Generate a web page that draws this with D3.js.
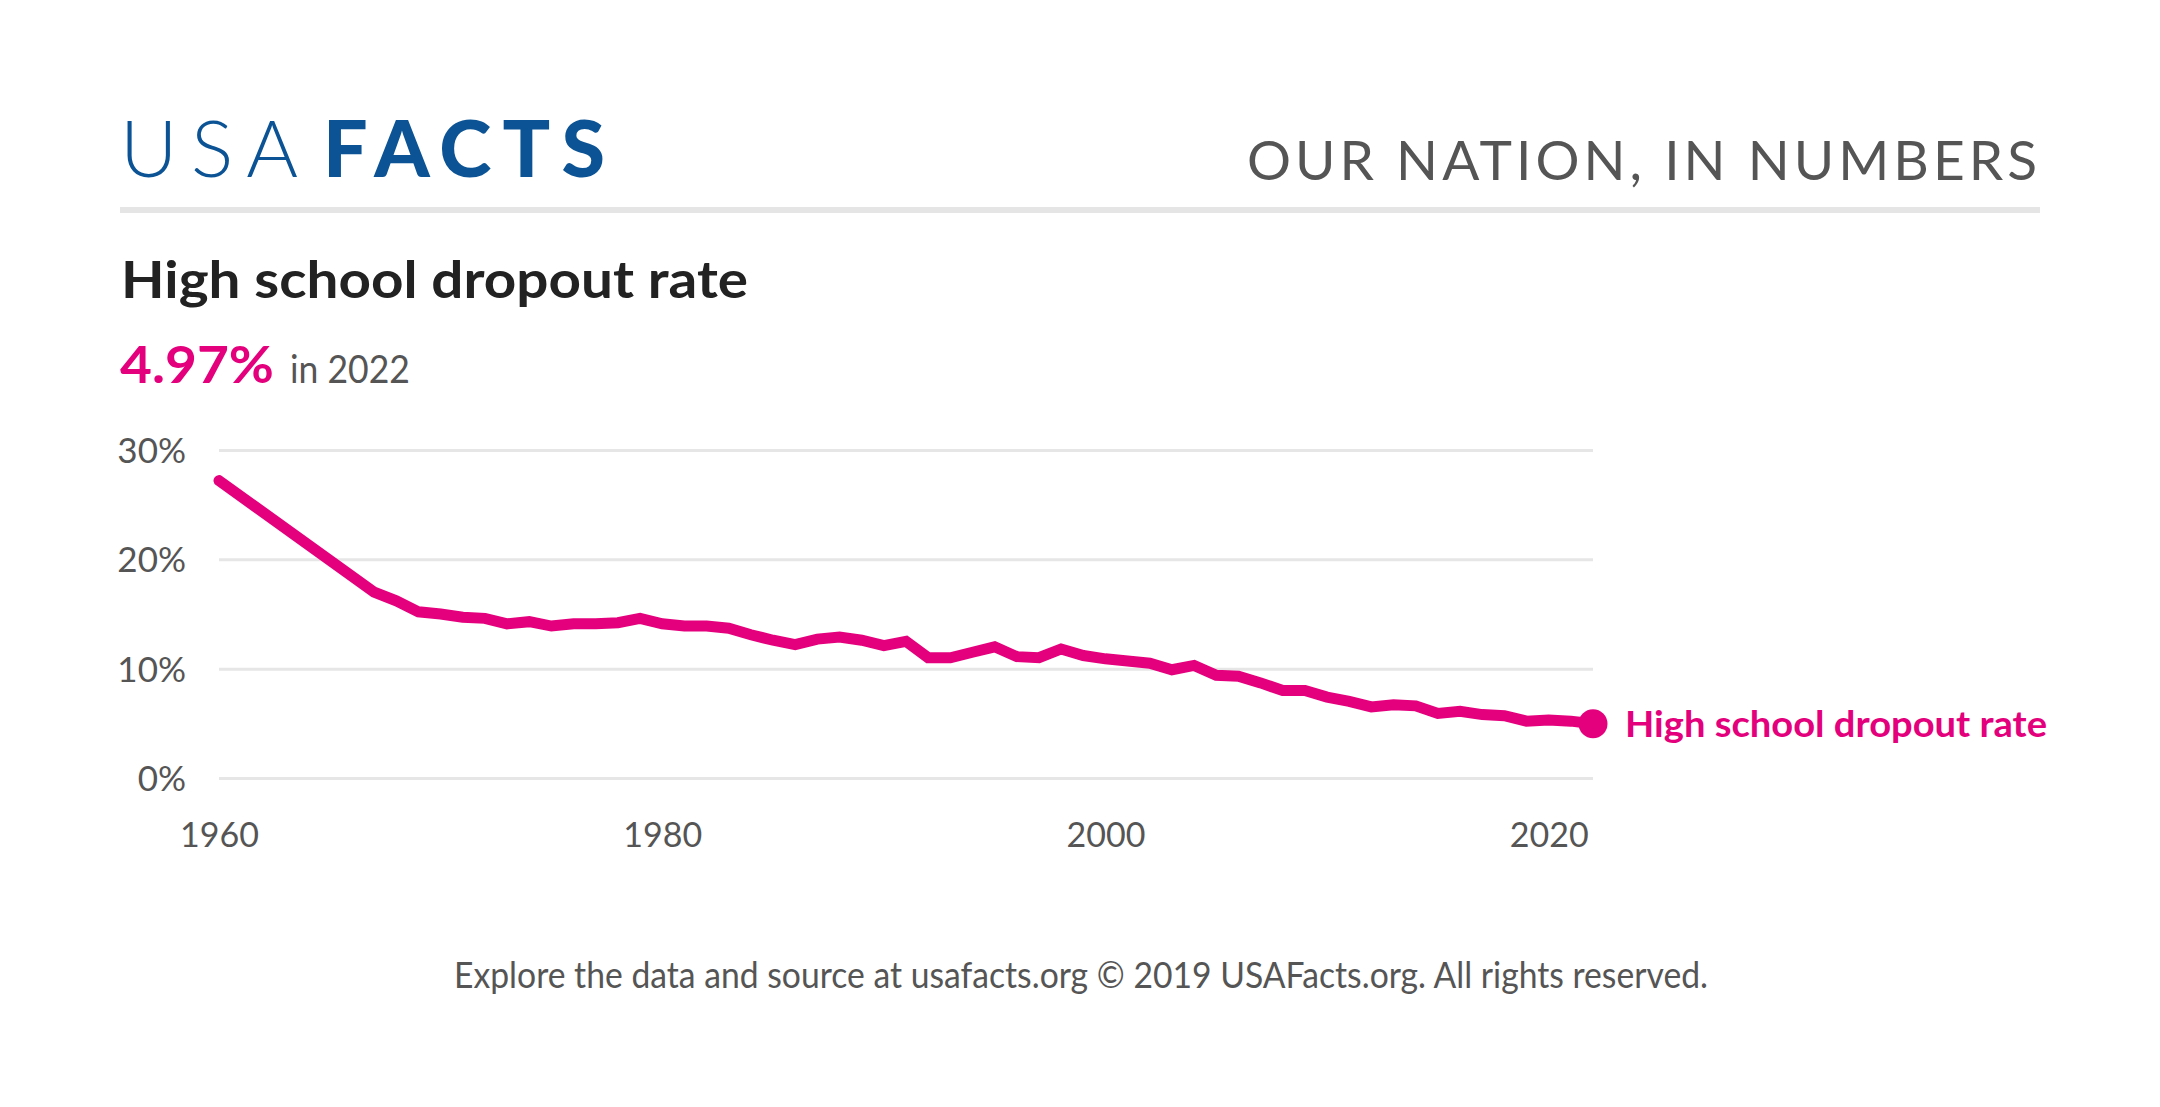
<!DOCTYPE html>
<html>
<head>
<meta charset="utf-8">
<script src="https://cdn.jsdelivr.net/npm/d3@7"></script>
<style>
  html, body { margin: 0; padding: 0; background: #fff; }
  svg { display: block; font-family: Lato, "Noto Sans", sans-serif; }
</style>
</head>
<body>
<svg id="chart" width="2160" height="1107"></svg>
<script>
// ---- data ----
const years = [1960, 1967, 1968, 1969, 1970, 1971, 1972, 1973, 1974, 1975, 1976, 1977, 1978, 1979,
  1980, 1981, 1982, 1983, 1984, 1985, 1986, 1987, 1988, 1989, 1990, 1991, 1992, 1993, 1994, 1995,
  1996, 1997, 1998, 1999, 2000, 2001, 2002, 2003, 2004, 2005, 2006, 2007, 2008, 2009, 2010, 2011,
  2012, 2013, 2014, 2015, 2016, 2017, 2018, 2019, 2020, 2021, 2022];
const dropoutRate = [27.2, 17.0, 16.2, 15.2, 15.0, 14.7, 14.6, 14.1, 14.3, 13.9, 14.1, 14.1, 14.2, 14.6,
  14.1, 13.9, 13.9, 13.7, 13.1, 12.6, 12.2, 12.7, 12.9, 12.6, 12.1, 12.5, 11.0, 11.0, 11.5, 12.0,
  11.1, 11.0, 11.8, 11.2, 10.9, 10.7, 10.5, 9.9, 10.3, 9.4, 9.3, 8.7, 8.0, 8.0, 7.4, 7.0,
  6.5, 6.7, 6.6, 5.9, 6.1, 5.8, 5.7, 5.2, 5.3, 5.2, 4.97];
const xTickValues = [1960, 1980, 2000, 2020];
const yTickValues = [0, 10, 20, 30];
const seriesName = "High school dropout rate";
const chartTitle = "High school dropout rate";
const latestValueText = "4.97%";
const latestYearText = "in 2022";
const headerRight = "OUR NATION, IN NUMBERS";
const footerText = "Explore the data and source at usafacts.org \u00A9 2019 USAFacts.org. All rights reserved.";

// ---- style ----
const PINK = "#e4007c";
const BLUE = "#0b5394";
const GREY = "#555555";
const DARK = "#222222";
const GRID = "#e6e6e6";

const svg = d3.select("#chart");

function fitText(sel, w, adjust) {
  sel.attr("textLength", w).attr("lengthAdjust", adjust || "spacingAndGlyphs");
  return sel;
}

// ---- header ----
fitText(svg.append("text").attr("x", 120).attr("y", 177)
  .attr("font-size", 79).attr("font-weight", 300).attr("fill", BLUE).text("USA"), 178, "spacing");
fitText(svg.append("text").attr("x", 323).attr("y", 177)
  .attr("font-size", 79).attr("font-weight", 900).attr("fill", BLUE).text("FACTS"), 282, "spacing");
fitText(svg.append("text").attr("x", 1247).attr("y", 180)
  .attr("font-size", 55).attr("font-weight", 400).attr("fill", GREY).text(headerRight), 790, "spacing");
svg.append("rect").attr("x", 120).attr("y", 207).attr("width", 1920).attr("height", 6).attr("fill", "#e5e5e5");

// ---- title ----
fitText(svg.append("text").attr("x", 121).attr("y", 298)
  .attr("font-size", 52).attr("font-weight", 700).attr("fill", DARK).text(chartTitle), 627);
fitText(svg.append("text").attr("x", 120).attr("y", 383)
  .attr("font-size", 52).attr("font-weight", 700).attr("fill", PINK).text(latestValueText), 154);
fitText(svg.append("text").attr("x", 290).attr("y", 383)
  .attr("font-size", 38).attr("font-weight", 400).attr("fill", GREY).text(latestYearText), 120);

// ---- chart ----
const x = d3.scaleLinear().domain([1960, 2022]).range([219, 1593]);
const y = d3.scaleLinear().domain([0, 30]).range([778, 450]);

const yAxis = d3.axisLeft(y).tickValues(yTickValues).tickFormat(d => d + "%")
  .tickSize(-(x.range()[1] - x.range()[0])).tickPadding(33);
const gy = svg.append("g").attr("transform", `translate(${x.range()[0]},0)`).call(yAxis);
gy.select(".domain").remove();
gy.selectAll(".tick line").attr("stroke", GRID).attr("stroke-width", 3);
gy.selectAll(".tick text").attr("fill", GREY).attr("font-size", 35)
  .attr("font-family", "Lato, sans-serif").attr("dy", "0.36em");

const xAxis = d3.axisBottom(x).tickValues(xTickValues).tickFormat(d3.format("d")).tickSize(0);
const gx = svg.append("g").attr("transform", `translate(0,${y(0)})`).call(xAxis);
gx.select(".domain").remove();
gx.selectAll(".tick text").attr("fill", GREY).attr("font-size", 34)
  .attr("font-family", "Lato, sans-serif").attr("y", 69).attr("dy", 0);

const pts = years.map((yr, i) => ({ year: yr, value: dropoutRate[i] }));
const line = d3.line().x(d => x(d.year)).y(d => y(d.value));
svg.append("path").datum(pts).attr("d", line)
  .attr("fill", "none").attr("stroke", PINK).attr("stroke-width", 11)
  .attr("stroke-linejoin", "miter").attr("stroke-linecap", "round");

const last = pts[pts.length - 1];
svg.append("circle").attr("cx", x(last.year)).attr("cy", y(last.value)).attr("r", 14.5).attr("fill", PINK);
fitText(svg.append("text").attr("x", 1625).attr("y", 737)
  .attr("font-size", 37).attr("font-weight", 700).attr("fill", PINK).text(seriesName), 422);

// ---- footer ----
fitText(svg.append("text").attr("x", 454).attr("y", 988)
  .attr("font-size", 36).attr("font-weight", 400).attr("fill", GREY).text(footerText), 1254);
</script>
</body>
</html>
